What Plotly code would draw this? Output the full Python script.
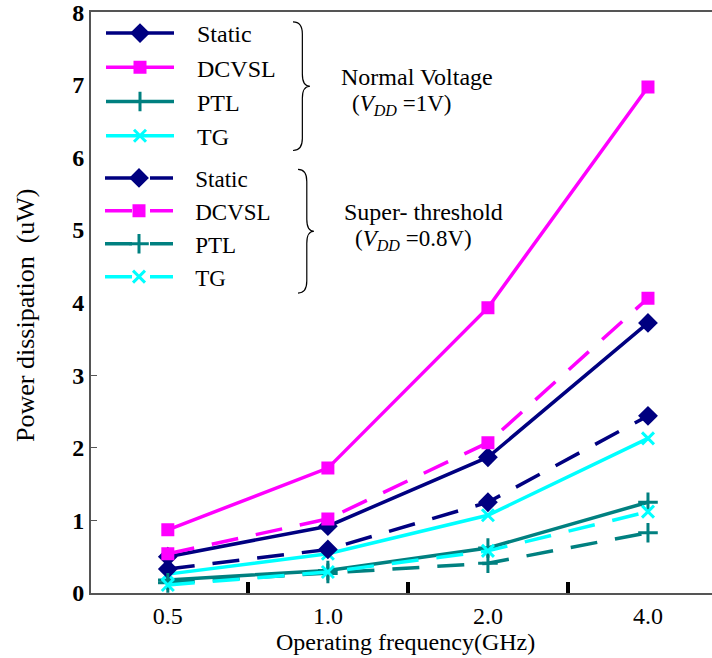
import plotly.graph_objects as go

# ---------------- data ----------------
freq_labels = ["0.5", "1.0", "2.0", "4.0"]          # Operating frequency (GHz)
y_ticks = [0, 1, 2, 3, 4, 5, 6, 7, 8]

# Normal voltage (VDD = 1V)  - solid lines
static_nv = [0.50, 0.92, 1.87, 3.72]
dcvsl_nv = [0.87, 1.72, 3.93, 6.97]
ptl_nv = [0.18, 0.31, 0.62, 1.25]
tg_nv = [0.26, 0.54, 1.07, 2.13]

# Super-threshold (VDD = 0.8V) - dashed lines
static_st = [0.33, 0.60, 1.25, 2.44]
dcvsl_st = [0.54, 1.02, 2.07, 4.06]
ptl_st = [0.14, 0.27, 0.41, 0.83]
tg_st = [0.11, 0.29, 0.58, 1.12]

series_names = ["Static", "DCVSL", "PTL", "TG"]
colors = ["#000080", "#FF00FF", "#008080", "#00FFFF"]
symbols = ["diamond", "square", "cross-thin", "x-thin"]
msizes = [12, 10, 14, 12]

# ---------------- layout geometry (pixels) ----------------
W, H = 712, 658
ML, MR, MT, MB = 91, 0, 10, 65
PW, PH = W - ML - MR, H - MT - MB


def px(xp):
    return (xp - ML) / PW


def py(yp):
    return (H - MB - yp) / PH


SERIF = "Liberation Serif, Times New Roman, DejaVu Serif, serif"

fig = go.Figure()

solid = [static_nv, dcvsl_nv, ptl_nv, tg_nv]
dashed = [static_st, dcvsl_st, ptl_st, tg_st]

for i, name in enumerate(series_names):
    fig.add_trace(go.Scatter(
        x=freq_labels, y=solid[i], mode="lines+markers",
        name="\u00a0\u00a0\u00a0" + name,
        line=dict(color=colors[i], width=3.5),
        marker=dict(symbol=symbols[i], size=msizes[i], color=colors[i],
                    line=dict(color=colors[i], width=3)),
        legend="legend", legendgroup="n" + name,
    ))
for i, name in enumerate(series_names):
    fig.add_trace(go.Scatter(
        x=freq_labels, y=dashed[i], mode="lines+markers",
        name="\u00a0\u00a0\u00a0" + name,
        line=dict(color=colors[i], width=3.5, dash="27px,18px"),
        marker=dict(symbol=symbols[i], size=msizes[i], color=colors[i],
                    line=dict(color=colors[i], width=3)),
        legend="legend2", legendgroup="s" + name,
    ))

# braces
def brace(x0, xt, y0, y1, r=12):
    xm = x0 + (xt - x0) * 0.55
    ym = (y0 + y1) / 2
    pts = [
        ("M", [(x0, y0)]),
        ("Q", [(xm, y0), (xm, y0 + r)]),
        ("L", [(xm, ym - r)]),
        ("Q", [(xm, ym), (xt, ym)]),
        ("Q", [(xm, ym), (xm, ym + r)]),
        ("L", [(xm, y1 - r)]),
        ("Q", [(xm, y1), (x0, y1)]),
    ]
    s = ""
    for cmd, ps in pts:
        s += cmd + " " + " ".join(f"{px(a):.5f},{py(b):.5f}" for a, b in ps) + " "
    return s


shapes = [
    dict(type="path", xref="paper", yref="paper", path=brace(293, 310, 20, 149),
         line=dict(color="black", width=1.2)),
    dict(type="path", xref="paper", yref="paper", path=brace(298, 314, 168, 292),
         line=dict(color="black", width=1.2)),
]

annots = [
    dict(text="Normal Voltage", x=px(339), y=py(75), xanchor="left", yanchor="middle", size=24),
    dict(text="(<i>V</i><sub><i>DD</i></sub> =1V)", x=px(350), y=py(103), xanchor="left",
         yanchor="middle", size=23),
    dict(text="Super- threshold", x=px(342), y=py(211), xanchor="left", yanchor="middle", size=24),
    dict(text="(<i>V</i><sub><i>DD</i></sub> =0.8V)", x=px(353), y=py(239), xanchor="left",
         yanchor="middle", size=23),
    dict(text="Operating frequency(GHz)", x=px(405), y=py(642), xanchor="center",
         yanchor="middle", size=24),
    dict(text="Power dissipation  (uW)", x=px(26), y=py(315), xanchor="center", yanchor="middle",
         textangle=-90, size=26),
]
for a in annots:
    sz = a.pop("size")
    a.update(xref="paper", yref="paper", showarrow=False,
             font=dict(family=SERIF, size=sz, color="black"))

fig.update_layout(
    width=W, height=H,
    margin=dict(l=ML, r=MR, t=MT, b=MB),
    paper_bgcolor="white", plot_bgcolor="white",
    showlegend=True,
    legend=dict(x=px(101), y=py(9), xanchor="left", yanchor="top",
                bgcolor="rgba(0,0,0,0)", borderwidth=0, itemwidth=68,
                tracegroupgap=0, font=dict(family=SERIF, size=24, color="black")),
    legend2=dict(x=px(100), y=py(155), xanchor="left", yanchor="top",
                 bgcolor="rgba(0,0,0,0)", borderwidth=0, itemwidth=68,
                 tracegroupgap=0, font=dict(family=SERIF, size=23, color="black")),
    shapes=shapes,
    annotations=annots,
    xaxis=dict(type="category", categoryorder="array", categoryarray=freq_labels,
               range=[-0.48, 3.4], showgrid=False, zeroline=False,
               showline=True, linecolor="#555555", linewidth=2, mirror=True,
               tickson="boundaries", ticks="inside", ticklen=11, tickwidth=3.5,
               tickcolor="black", ticklabelstandoff=0,
               tickfont=dict(family=SERIF, size=24, color="black")),
    yaxis=dict(range=[0, 8.002], tickmode="array", tickvals=y_ticks,
               ticktext=[str(v) for v in y_ticks], ticklabeloverflow="allow",
               showgrid=False, zeroline=False, showline=True,
               linecolor="#555555", linewidth=2, ticks="",
               minor=dict(tickmode="array", tickvals=[1, 2, 3], ticks="inside",
                          ticklen=6, tickwidth=1, tickcolor="#555555"),
               tickfont=dict(family=SERIF, size=24, color="black", weight="bold")),
)

fig.write_html("out.html")
